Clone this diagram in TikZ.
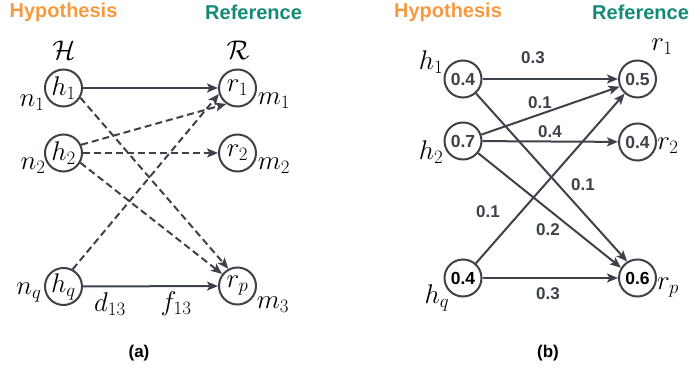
\RequirePackage{fix-cm}
\documentclass[tikz,border=0pt]{standalone}
\usepackage{fontspec}
\newfontfamily\lsans{Liberation Sans}
\usetikzlibrary{arrows.meta}
\definecolor{hypc}{HTML}{F7993F}
\definecolor{refc}{HTML}{138A72}
\definecolor{ln}{HTML}{3D424A}
\begin{document}
\begin{tikzpicture}[x=1pt,y=-1pt,
 circ/.style={circle,draw=ln,line width=2pt,minimum size=37pt,inner sep=0pt,font=\fontsize{27}{30}\selectfont},
 circb/.style={circ,font=\lsans\bfseries\fontsize{17.5}{20}\selectfont,text=ln},
 mlab/.style={inner sep=0pt,font=\fontsize{27}{30}\selectfont},
 ttl/.style={inner sep=0pt,font=\lsans\bfseries\fontsize{20}{24}\selectfont},
 elab/.style={inner sep=0pt,font=\lsans\bfseries\fontsize{17}{20}\selectfont,text=ln},
 capt/.style={inner sep=0pt,font=\lsans\bfseries\fontsize{17}{20}\selectfont},
 arr/.style={draw=ln,line width=2pt,-{Stealth[length=11pt,width=9pt,inset=2.5pt]}},
 dsh/.style={arr,dash pattern=on 7pt off 4pt}
]
\useasboundingbox (0,0) rectangle (689,371);
% ---------------- (a) ----------------
\node[ttl,text=hypc] (ta) at (63.5,12) {Hypothesis};
\node[ttl,text=refc,anchor=west] (tra) at (205,12) {Reference};
\node[mlab] (H) at (64,50) {$\mathcal{H}$};
\node[mlab] (R) at (238,50) {$\mathcal{R}$};
\node[circ] (h1) at (63.5,88) {$h_1$};
\node[circ] (h2) at (63.5,153) {$h_2$};
\node[circ] (hq) at (63.5,286.5) {$h_q$};
\node[circ] (r1) at (237.5,88) {$r_1$};
\node[circ] (r2) at (237.5,153) {$r_2$};
\node[circ] (rp) at (237.5,286) {$r_p$};
\node[mlab] (n1) at (32,103) {$n_1$};
\node[mlab] (n2) at (33,166) {$n_2$};
\node[mlab] (nq) at (29,293) {$n_q$};
\node[mlab] (m1) at (274,101) {$m_1$};
\node[mlab] (m2) at (274,166) {$m_2$};
\node[mlab] (m3) at (273,305) {$m_3$};
\node[mlab] (d13) at (110,304) {$d_{13}$};
\node[mlab] (f13) at (176,304) {$f_{13}$};
\node[capt] (ca) at (139,353) {(a)};
\draw[arr] (h1) -- (r1);
\draw[arr] (hq) -- (rp);
\draw[dsh] (h1.330) -- (rp.118);
\draw[dsh] (h2.25) -- (r1.235);
\draw[dsh] (h2) -- (r2);
\draw[dsh] (h2.330) -- (rp.142);
\draw[dsh] (hq.62) -- (r1.198);
% ---------------- (b) ----------------
\node[ttl,text=hypc] (tb) at (448,12) {Hypothesis};
\node[ttl,text=refc,anchor=west] (trb) at (592,12) {Reference};
\node[circb] (b1) at (463,79) {0.4};
\node[circb] (b2) at (463,141) {0.7};
\node[circb,text=black] (bq) at (463,278) {0.4};
\node[circb] (s1) at (637.5,79) {0.5};
\node[circb] (s2) at (637.5,142) {0.4};
\node[circb,text=black] (sp) at (637.5,278) {0.6};
\node[mlab] (lh1) at (431,62) {$h_1$};
\node[mlab] (lh2) at (431,152) {$h_2$};
\node[mlab] (lhq) at (437,298) {$h_q$};
\node[mlab] (lr1) at (662,47) {$r_1$};
\node[mlab] (lr2) at (668,146) {$r_2$};
\node[mlab] (lrp) at (668,288) {$r_p$};
\draw[arr] (b1) -- (s1);
\draw[arr] (b2) -- (s1.203);
\draw[arr] (b2) -- (s2);
\draw[arr] (bq) -- (s1);
\draw[arr] (b1) -- (sp.122);
\draw[arr] (b2) -- (sp.148);
\draw[arr] (bq) -- (sp);
\node[elab] (e1) at (533,58) {0.3};
\node[elab] (e2) at (540,103) {0.1};
\node[elab] (e3) at (550,132) {0.4};
\node[elab] (e4) at (583,185) {0.1};
\node[elab] (e5) at (548,230) {0.2};
\node[elab] (e6) at (488,212) {0.1};
\node[elab] (e7) at (548,294) {0.3};
\node[capt] (cb) at (548,353) {(b)};
\end{tikzpicture}
\end{document}
